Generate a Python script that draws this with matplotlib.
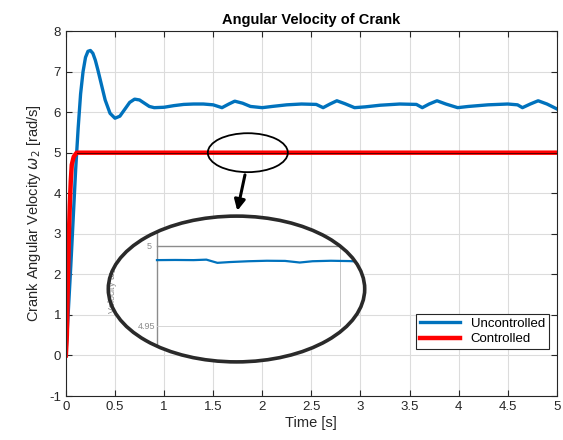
import numpy as np
import matplotlib
matplotlib.use("Agg")
import matplotlib.pyplot as plt
from matplotlib.patches import Ellipse

plt.rcParams['font.family'] = ['Liberation Sans', 'DejaVu Sans']
plt.rcParams['axes.unicode_minus'] = False

# --- data ---
t_unc = [0.0, 0.05, 0.1, 0.125, 0.15, 0.175, 0.2, 0.225, 0.25, 0.275, 0.3, 0.325,
         0.35, 0.4, 0.45, 0.5, 0.55, 0.6, 0.65, 0.7, 0.75, 0.8, 0.85, 0.9, 1.0,
         1.1, 1.2, 1.3, 1.4, 1.5, 1.59, 1.66, 1.72, 1.8, 1.88, 2.0, 2.1, 2.25,
         2.4, 2.55, 2.62, 2.69, 2.76, 2.84, 2.94, 3.05, 3.2, 3.4, 3.57, 3.63,
         3.7, 3.78, 3.87, 3.99, 4.1, 4.3, 4.5, 4.6, 4.65, 4.73, 4.81, 4.9, 5.0]
w_unc = [0.0, 2.2, 4.6, 5.6, 6.45, 7.0, 7.35, 7.5, 7.52, 7.45, 7.28, 7.05,
         6.8, 6.3, 5.97, 5.85, 5.9, 6.07, 6.24, 6.32, 6.3, 6.22, 6.14, 6.11,
         6.12, 6.16, 6.19, 6.2, 6.2, 6.18, 6.11, 6.2, 6.27, 6.22, 6.14, 6.11,
         6.14, 6.18, 6.2, 6.19, 6.11, 6.2, 6.28, 6.21, 6.11, 6.13, 6.17, 6.2,
         6.19, 6.11, 6.2, 6.28, 6.2, 6.11, 6.14, 6.18, 6.2, 6.18, 6.11, 6.2,
         6.28, 6.2, 6.08]

t_ctl = [0.0, 0.01, 0.02, 0.03, 0.04, 0.05, 0.06, 0.08, 0.11, 0.5, 1.0, 2.0, 3.0, 4.0, 5.0]
w_ctl = [0.0, 0.5, 1.8, 2.9, 3.7, 4.3, 4.7, 4.9, 5.0, 5.0, 5.0, 5.0, 5.0, 5.0, 5.0]

# zoomed detail shown in the magnifier
x_zoom = [0.0, 0.1, 0.2, 0.27, 0.33, 0.4, 0.5, 0.6, 0.7, 0.78, 0.85, 0.95, 1.05, 1.13]
w_zoom = [4.9912, 4.9913, 4.9912, 4.9915, 4.9895, 4.9900, 4.9905, 4.9908,
          4.9907, 4.9897, 4.9905, 4.9908, 4.9906, 4.9902]

blue = '#0072BD'

fig = plt.figure(figsize=(5.63, 4.40), dpi=100)
ax = fig.add_axes([0.117, 0.1, 0.872, 0.8295])

ax.plot(t_unc, w_unc, color=blue, lw=2.4, label='Uncontrolled')
ax.plot(t_ctl, w_ctl, color='red', lw=3.2, label='Controlled')
ax.plot(t_ctl[8:], w_ctl[8:], color='#300000', lw=0.7, alpha=0.8)

ax.set_xlim(0, 5)
ax.set_ylim(-1, 8)
ax.set_xticks(np.arange(0, 5.01, 0.5))
ax.set_xticklabels(['0', '0.5', '1', '1.5', '2', '2.5', '3', '3.5', '4', '4.5', '5'])
ax.set_yticks(range(-1, 9))
ax.grid(True, color='#dcdcdc', lw=0.8)
ax.set_axisbelow(True)
ax.tick_params(direction='in', top=True, right=True, labelsize=9.5,
               colors='#262626', length=4)
for s in ax.spines.values():
    s.set_color('#262626')
ax.set_title('Angular Velocity of Crank', fontsize=10.5, fontweight='bold', pad=5)
ax.set_xlabel('Time [s]', fontsize=10.5, color='#262626', labelpad=2)
ax.set_ylabel(r'Crank Angular Velocity $\omega_2$ [rad/s]', fontsize=10.5,
              color='#262626', labelpad=4)

leg = ax.legend(loc='lower right', bbox_to_anchor=(0.997, 0.11), fontsize=9.5,
                fancybox=False, edgecolor='#262626', framealpha=1,
                handlelength=3.0, borderpad=0.3, labelspacing=0.25)
leg.get_frame().set_linewidth(0.8)

# small ellipse marking the zoomed area + arrow
ax.add_patch(Ellipse((1.853, 5.0), 0.815, 0.96, fill=False, ec='black', lw=1.3, zorder=5))
ax.annotate('', xy=(1.74, 3.5), xytext=(1.83, 4.52),
            arrowprops=dict(arrowstyle='-|>', color='black', lw=2.2,
                            mutation_scale=16), zorder=6)

# magnifier inset
W, H = 563.0, 440.0
axin = fig.add_axes([107 / W, 1 - 363 / H, 259 / W, 148 / H])
axin.set_xlim(-0.273, 1.142)
axin.set_ylim(4.9269, 5.0194)
axin.axis('off')
clip = Ellipse((0.5, 0.5), 1, 1, transform=axin.transAxes, fc='white', ec='none', zorder=0)
axin.add_patch(clip)
grey = '#8c8c8c'
box = [axin.plot([0, 0], [4.9375, 5.008], color=grey, lw=1.0)[0],
       axin.plot([0, 1], [5.0, 5.0], color=grey, lw=1.0)[0],
       axin.plot([1, 1], [4.95, 5.0], color='#bbbbbb', lw=0.6)[0],
       axin.plot([0, 1], [4.95, 4.95], color='#d0d0d0', lw=0.6)[0]]
zl = axin.plot(x_zoom, w_zoom, color=blue, lw=1.6)[0]
txts = [axin.text(-0.03, 5.0, '5', ha='right', va='center', fontsize=6.5, color=grey),
        axin.text(-0.01, 4.95, '4.95', ha='right', va='center', fontsize=6.5, color=grey),
        axin.text(-0.245, 4.972, r'Velocity $\omega_2$', rotation=90, ha='center',
                  va='center', fontsize=6.5, color=grey)]
for a in box + [zl] + txts:
    a.set_clip_path(clip)
axin.add_patch(Ellipse((0.5, 0.5), 0.99, 0.985, transform=axin.transAxes,
                       fill=False, ec='#2a2a2a', lw=2.6, zorder=10, clip_on=False))

fig.savefig('out.png', dpi=100)
